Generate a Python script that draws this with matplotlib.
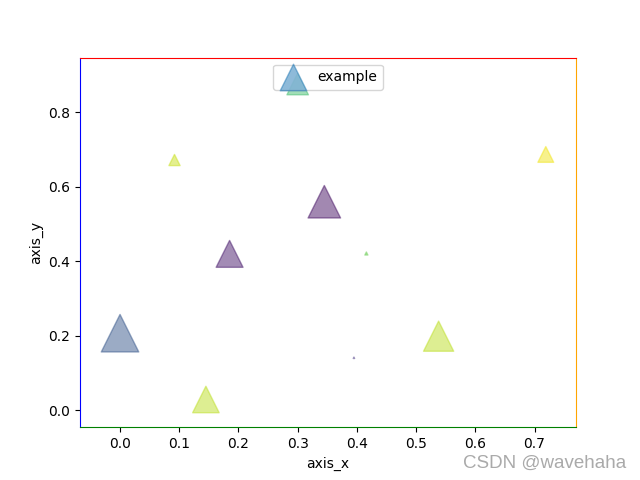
import matplotlib
matplotlib.use("Agg")
import matplotlib.pyplot as plt  # noqa: E402

# values
x = [0.0, 0.145, 0.345, 0.185, 0.538, 0.092, 0.719, 0.416, 0.395, 0.300]
y = [0.207, 0.029, 0.560, 0.420, 0.199, 0.672, 0.687, 0.421, 0.141, 0.876]
colors = [0.27, 0.90, 0.05, 0.07, 0.90, 0.92, 0.98, 0.78, 0.15, 0.70]
area = [729, 364, 548, 375, 472, 65, 129, 5, 1, 240]

fig, ax = plt.subplots(figsize=(6.4, 4.8), dpi=100)
ax.scatter(x, y, s=area, c=colors, cmap="viridis", vmin=0, vmax=1,
           alpha=0.5, marker="^", label="example")

ax.set_xlim(-0.0676, 0.770)
ax.set_ylim(-0.0454, 0.947)
ax.set_xlabel("axis_x")
ax.set_ylabel("axis_y")
leg = ax.legend(loc="upper center")
# legend marker in the reference shows the default blue, not a mapped colour
handle = leg.legend_handles[0]
handle.set_array(None)
handle.set_facecolor("C0")
handle.set_edgecolor("C0")

ax.spines["left"].set_color("blue")
ax.spines["top"].set_color("red")
ax.spines["right"].set_color("orange")
ax.spines["bottom"].set_color("green")

fig.text(0.978, 0.018, "CSDN @wavehaha", ha="right", va="bottom",
         fontsize=13.5, color="#aaaaaa", family="Liberation Sans")

plt.savefig("out.png", dpi=100)
